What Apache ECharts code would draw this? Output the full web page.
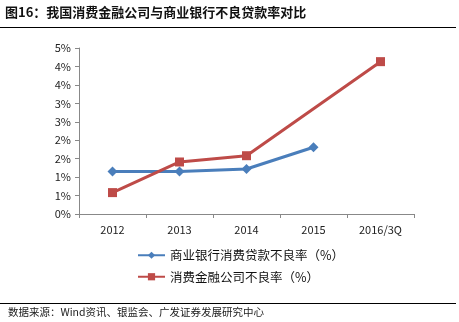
<!DOCTYPE html>
<html><head><meta charset="utf-8">
<script src="https://cdn.jsdelivr.net/npm/echarts@6/dist/echarts.min.js"></script>
<style>html,body{margin:0;padding:0;background:#fff}#c{width:459px;height:322px}</style>
</head><body><div id="c"></div>
<script>
const categories = ['2012', '2013', '2014', '2015', '2016/3Q'];
const bankNPL = [1.15, 1.15, 1.22, 1.81, null];
const consumerFinanceNPL = [0.58, 1.41, 1.58, null, 4.13];
const seriesNames = ['商业银行消费贷款不良率（%）', '消费金融公司不良率（%）'];
const titleText = '图16：我国消费金融公司与商业银行不良贷款率对比';
const sourceText = '数据来源：Wind资讯、银监会、广发证券发展研究中心';

const font = '"Noto Sans CJK SC", "Noto Sans", sans-serif';
const chart = echarts.init(document.getElementById('c'));
chart.setOption({
  animation: false,
  textStyle: { fontFamily: font },
  graphic: [
    { type: 'text', left: 5, top: 6, style: { text: titleText, font: 'bold 13px ' + font, fill: '#111' } },
    { type: 'line', shape: { x1: 0, y1: 27.5, x2: 456, y2: 27.5 }, style: { stroke: '#000', lineWidth: 1 } },
    { type: 'line', shape: { x1: 0, y1: 303.5, x2: 456, y2: 303.5 }, style: { stroke: '#000', lineWidth: 1 } },
    { type: 'text', left: 8, top: 307, style: { text: sourceText, font: '10.5px ' + font, fill: '#222' } }
  ],
  grid: { left: 79, right: 45, top: 48, bottom: 108 },
  legend: {
    orient: 'vertical', left: 132, top: 244, itemGap: 9,
    itemWidth: 27, itemHeight: 9,
    textStyle: { fontSize: 12.5, color: '#111', fontFamily: font },
    data: seriesNames
  },
  xAxis: {
    type: 'category', data: categories, boundaryGap: true,
    axisLine: { lineStyle: { color: '#888' } },
    axisTick: { show: true, length: 4, lineStyle: { color: '#888' } },
    axisLabel: { color: '#222', fontSize: 11, margin: 10 }
  },
  yAxis: {
    type: 'value', min: 0, max: 4.5, interval: 0.5,
    splitLine: { show: false },
    axisLine: { show: true, lineStyle: { color: '#888' } },
    axisTick: { show: true, length: 4, lineStyle: { color: '#888' } },
    axisLabel: { color: '#222', fontSize: 11, margin: 8, formatter: v => Math.round(v + 1e-9) + '%' }
  },
  series: [
    {
      name: seriesNames[0], type: 'line', data: bankNPL, connectNulls: false,
      symbol: 'diamond', symbolSize: 10,
      lineStyle: { color: '#4a7ebb', width: 3 },
      itemStyle: { color: '#4a7ebb' }
    },
    {
      name: seriesNames[1], type: 'line', data: consumerFinanceNPL, connectNulls: true,
      symbol: 'rect', symbolSize: 9,
      lineStyle: { color: '#be4b48', width: 3 },
      itemStyle: { color: '#be4b48' }
    }
  ]
});
</script></body></html>
